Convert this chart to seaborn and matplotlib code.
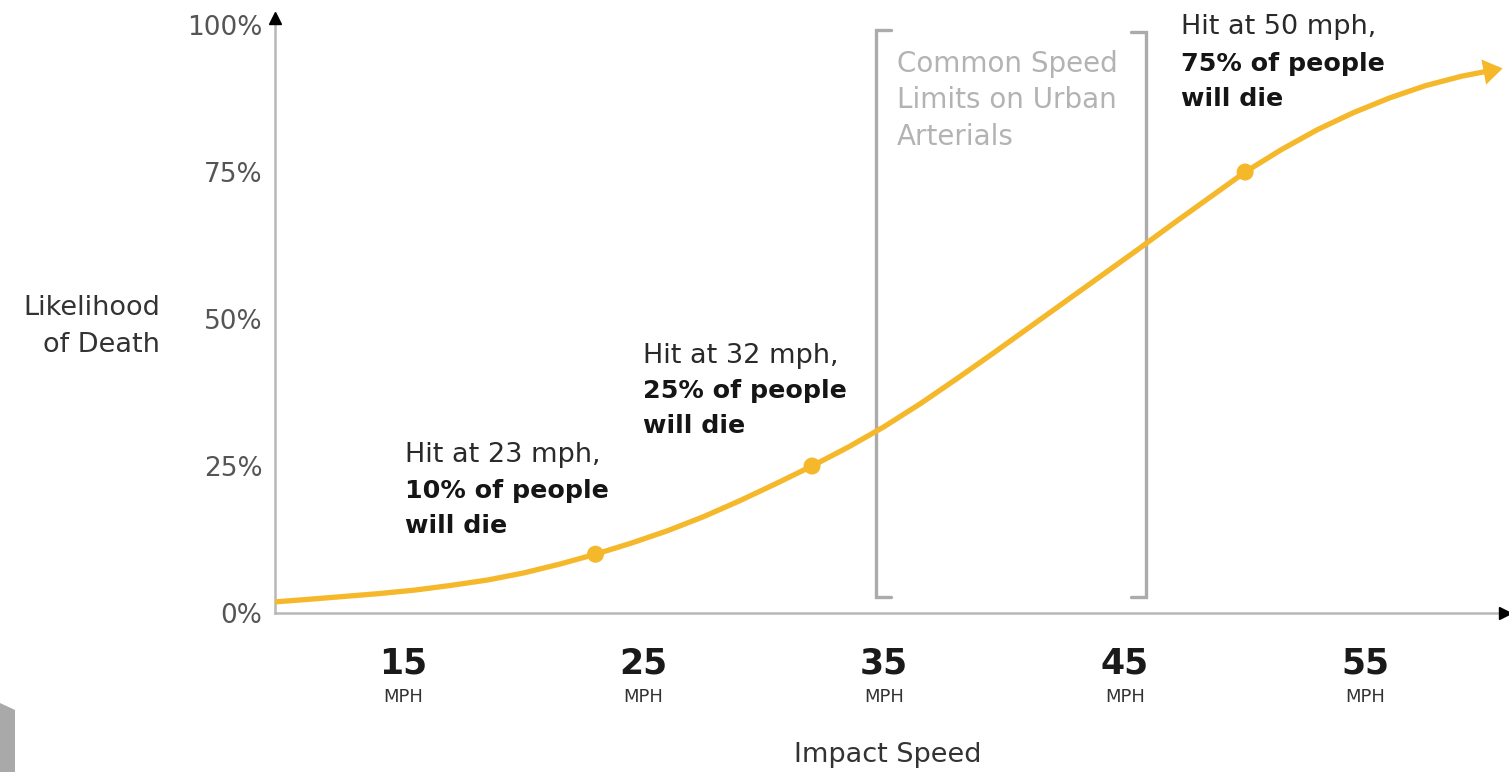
import matplotlib
matplotlib.use("Agg")
import matplotlib.pyplot as plt
import matplotlib.transforms as mtransforms
from matplotlib.patches import Polygon
import seaborn as sns
import pandas as pd

# ---- data ----
speed_mph = [9.7, 11, 12.5, 14, 15.5, 17, 18.5, 20, 21.5, 23, 24.5, 26, 27.5, 29, 30.5, 32,
             33.5, 35, 36.5, 38, 39.5, 41, 42.5, 44, 45.5, 47, 48.5, 50, 51.5, 53, 54.5,
             56, 57.5, 59, 60.5]
death_pct = [1.9, 2.3, 2.8, 3.3, 3.9, 4.7, 5.6, 6.8, 8.3, 10, 11.9, 14.0, 16.4, 19.1, 22.0, 25,
             28.2, 31.7, 35.6, 39.8, 44.1, 48.5, 52.9, 57.3, 61.7, 66.2, 70.6, 75, 78.8, 82.2, 85.1,
             87.6, 89.7, 91.3, 92.5]
marked_speed = [23, 32, 50]
marked_pct = [10, 25, 75]
x_ticks = [15, 25, 35, 45, 55]
y_ticks = [0, 25, 50, 75, 100]
y_tick_labels = ["0%", "25%", "50%", "75%", "100%"]
speed_limit_range = [35, 45]
notes = [
    ("Hit at 23 mph,", "10% of people", "will die"),
    ("Hit at 32 mph,", "25% of people", "will die"),
    ("Hit at 50 mph,", "75% of people", "will die"),
]
bracket_lines = ["Common Speed", "Limits on Urban", "Arterials"]

df = pd.DataFrame({"speed": speed_mph, "pct": death_pct})
dots = pd.DataFrame({"speed": marked_speed, "pct": marked_pct})

W, H = 1509, 772
sns.set_theme(style="white")
plt.rcParams["font.family"] = ["DejaVu Sans"]

fig = plt.figure(figsize=(W / 100, H / 100), dpi=100)
fig.patch.set_facecolor("white")
ax = fig.add_axes([275 / W, 1 - 613 / H, 1230 / W, 595 / H])

YEL = "#F5B82A"
sns.lineplot(data=df, x="speed", y="pct", ax=ax, color=YEL, linewidth=3.8, zorder=3)
sns.scatterplot(data=dots, x="speed", y="pct", ax=ax, color=YEL, s=150, edgecolor="none", zorder=4)
# arrow head at end of curve
ax.annotate("", xy=(speed_mph[-1] + 0.2, death_pct[-1] + 0.12), xytext=(speed_mph[-2], death_pct[-2]),
            arrowprops=dict(arrowstyle="-|>,head_length=0.6,head_width=0.4", color=YEL, lw=0,
                            mutation_scale=23, shrinkA=0, shrinkB=0), zorder=4)

ax.set_xlim(9.68, 60.8)
ax.set_ylim(0, 101.2)
ax.set_xlabel("")
ax.set_ylabel("")

for s in ["top", "right"]:
    ax.spines[s].set_visible(False)
for s in ["left", "bottom"]:
    ax.spines[s].set_color("#b8b8b8")
    ax.spines[s].set_linewidth(1.8)

# axis arrowheads
ax.plot(0, 1, marker="^", color="black", markersize=9, transform=ax.transAxes, clip_on=False, zorder=5)
ax.plot(1, 0, marker=">", color="black", markersize=9, transform=ax.transAxes, clip_on=False, zorder=5)

ax.set_yticks(y_ticks)
ax.set_yticklabels(y_tick_labels)
ax.tick_params(axis="y", length=0, pad=9, labelsize=19, labelcolor="#555555")
ax.set_xticks(x_ticks)
ax.set_xticklabels([str(v) for v in x_ticks], fontweight="bold")
ax.tick_params(axis="x", length=0, pad=24, labelsize=25, labelcolor="#1a1a1a")

btrans = mtransforms.blended_transform_factory(ax.transData, fig.transFigure)
for v in x_ticks:
    ax.text(v, 1 - 702 / H, "MPH", transform=btrans, ha="center", va="baseline",
            fontsize=13, color="#333333")

# speed-limit bracket
x0, x1 = speed_limit_range[0] - 0.35, speed_limit_range[1] + 0.9
tab = 0.65
ytop, ybot = 99.2, 2.8
bc = "#ababab"
ax.plot([x0 + tab, x0, x0, x0 + tab], [ytop, ytop, ybot, ybot], color=bc, lw=2.4,
        solid_joinstyle="miter", zorder=2)
ax.plot([x1 - tab, x1, x1, x1 - tab], [ytop - 0.4, ytop - 0.4, ybot, ybot], color=bc, lw=2.4,
        solid_joinstyle="miter", zorder=2)

def ftext(xp, yp, s, **kw):
    fig.text(xp / W, 1 - yp / H, s, va="baseline", **kw)

for line, yb in zip(bracket_lines, [72, 108, 145]):
    ftext(897, yb, line, fontsize=20, color="#b3b3b3")

positions = [(405, [462, 498, 533]), (643, [363, 398, 433]), (1181, [34, 71, 106])]
for (xp, ys), (l1, l2, l3) in zip(positions, notes):
    ftext(xp, ys[0], l1, fontsize=19.5, color="#2a2a2a")
    ftext(xp, ys[1], l2, fontsize=18.3, color="#151515", fontweight="bold")
    ftext(xp, ys[2], l3, fontsize=18.3, color="#151515", fontweight="bold")

ftext(160, 315, "Likelihood", fontsize=19.5, color="#333333", ha="right")
ftext(160, 352, "of Death", fontsize=19.5, color="#333333", ha="right")
ftext(888, 762, "Impact Speed", fontsize=19.5, color="#333333", ha="center")

# decorative gray corner shape
poly = Polygon([[0, 1 - 703 / H], [15 / W, 1 - 710 / H], [15 / W, 0], [0, 0]],
               closed=True, transform=fig.transFigure, facecolor="#a9a9a9", edgecolor="none")
fig.patches.append(poly)

fig.savefig("out.png", dpi=100, facecolor="white")
